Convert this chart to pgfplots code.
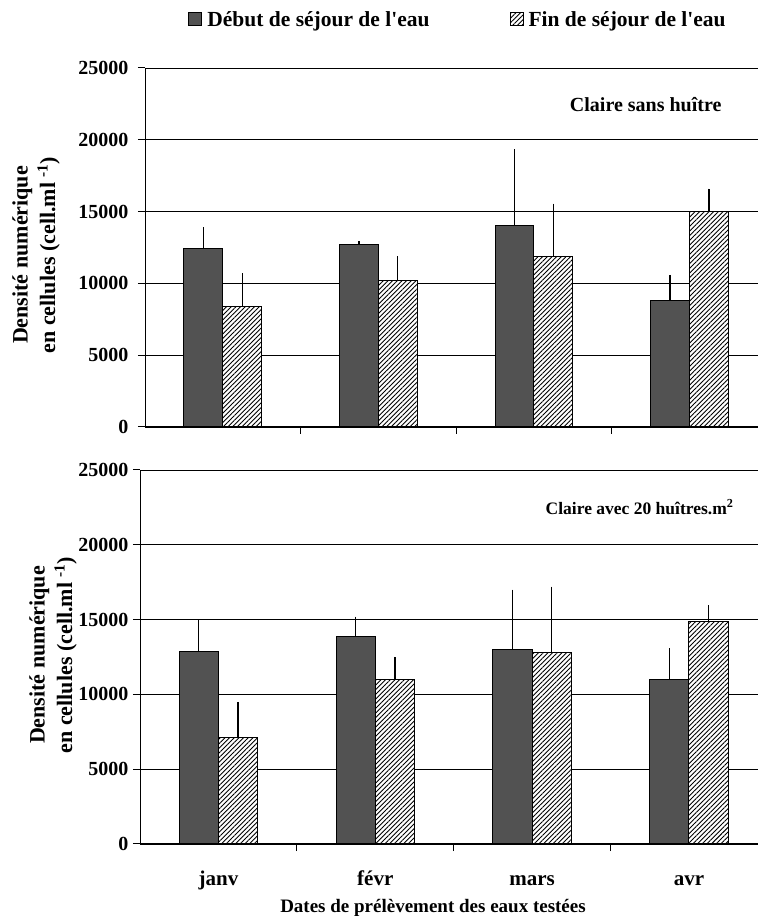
\documentclass[border=0pt]{standalone}
\usepackage{pgfplots}
\pgfplotsset{compat=1.18}
\usepackage{pgfplotstable}
\usepackage{fontspec}
\setmainfont{Liberation Serif}
\usetikzlibrary{patterns.meta}
\newcommand\fs[1]{\bfseries\fontsize{#1}{1.25\dimexpr#1pt\relax}\selectfont}
\definecolor{debut}{RGB}{82,82,82}

\pgfplotstableread{
x deb debE fin finE
0 12400 1500 8400 2300
1 12700 250 10200 1700
2 14000 5350 11900 3650
3 8800 1800 15000 1600
}\topdata
\pgfplotstableread{
x deb debE fin finE
0 12900 2100 7100 2400
1 13900 1300 11000 1500
2 13000 4000 12800 4400
3 11000 2100 14900 1050
}\botdata

\pgfplotsset{
  base/.style={
    scale only axis,
    xmin=-0.5, xmax=3.44,
    ymin=0, ymax=25000,
    axis x line*=bottom, axis y line*=left,
    axis line style={-, line width=1pt, black},
    ytick={0,5000,...,25000},
    ymajorgrids,
    grid style={black, line width=0.9pt},
    tick style={black, line width=1pt},
    tick align=outside,
    major tick length=7pt,
    xtick={0.5,1.5,2.5},
    xticklabels={},
    /pgf/number format/assume math mode=true,
    /pgf/number format/set thousands separator={},
    scaled y ticks=false,
    clip=false,
  },
  debstyle/.style={ybar, bar width=0.25, bar shift=0pt, fill=debut, draw=black, line width=1pt,
    legend image code/.code={\draw[##1] (0pt,-6pt) rectangle (13pt,7pt);},
    error bars/.cd, y dir=plus, y explicit, error mark=none,
    error bar style={line width=1.3pt, black}},
  finstyle/.style={ybar, bar width=0.25, bar shift=0pt, fill=white, draw=black, line width=1pt,
    postaction={pattern={Lines[angle=45,distance=3.3pt,line width=0.9pt]}, pattern color=black},
    legend image code/.code={\draw[##1] (0pt,-6pt) rectangle (13pt,7pt);},
    error bars/.cd, y dir=plus, y explicit, error mark=none,
    error bar style={line width=1.3pt, black}},
}

\begin{document}
\begin{tikzpicture}
\useasboundingbox (0,0) rectangle (761pt,916pt);

\begin{axis}[base,
  at={(145pt,489pt)}, anchor=south west, width=613pt, height=359pt,
  yticklabel style={font=\fs{20}, xshift=-6pt},
  legend columns=2,
  legend style={draw=none, fill=none, font=\fs{21.5}, at={(axis description cs:0.5,1)}, anchor=center,
    xshift=6.5pt, yshift=48pt,
    /tikz/every odd column/.append style={column sep=3pt},
    /tikz/every even column/.append style={column sep=78pt}},
  legend cell align=left,
]
\addplot[debstyle] table[x expr=\thisrow{x}-0.125, y=deb, y error=debE]{\topdata};
\addlegendentry{Début de séjour de l\textquotesingle eau}
\addplot[finstyle] table[x expr=\thisrow{x}+0.125, y=fin, y error=finE]{\topdata};
\addlegendentry{Fin de séjour de l\textquotesingle eau}
\end{axis}

\begin{axis}[base,
  at={(140pt,72pt)}, anchor=south west, width=618pt, height=374pt,
  yticklabel style={font=\fs{20}, xshift=-1pt},
  extra x ticks={0,1,2,3},
  extra x tick labels={janv,févr,mars,avr},
  extra x tick style={major tick length=0pt, xticklabel style={font=\fs{21}, anchor=base, yshift=-42pt}},
]
\addplot[debstyle] table[x expr=\thisrow{x}-0.125, y=deb, y error=debE]{\botdata};
\addplot[finstyle] table[x expr=\thisrow{x}+0.125, y=fin, y error=finE]{\botdata};
\end{axis}

\node[font=\fs{20}, anchor=east] at (725pt,811pt) {Claire sans huître};
\node[font=\fs{17.5}, anchor=east] at (737pt,409pt) {Claire avec 20 huîtres.m\textsuperscript{2}};
\node[font=\fs{22}, rotate=90, align=center] at (36pt,661pt) {Densité numérique\\en cellules (cell.ml \textsuperscript{-1})};
\node[font=\fs{22}, rotate=90, align=center] at (53pt,261pt) {Densité numérique\\en cellules (cell.ml \textsuperscript{-1})};
\node[font=\fs{19}, anchor=base] at (433pt,4pt) {Dates de prélèvement des eaux testées};
\end{tikzpicture}
\end{document}
